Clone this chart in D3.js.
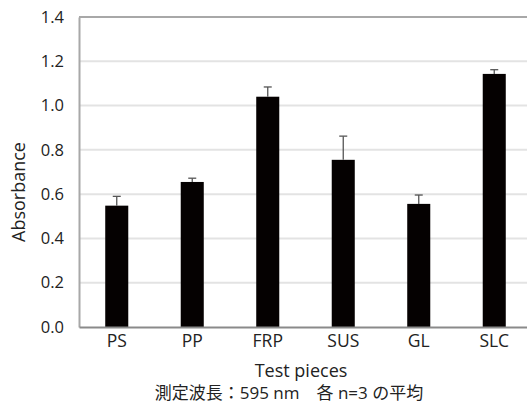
<!DOCTYPE html>
<html>
<head>
<meta charset="utf-8">
<script src="https://cdn.jsdelivr.net/npm/d3@7"></script>
<style>
  body { margin: 0; background: #fff; overflow: hidden; }
  text { font-family: "Open Sans", "Noto Sans CJK JP", sans-serif; fill: #222; }
</style>
</head>
<body>
<div id="chart"></div>
<script>
// data
const pieces = ["PS", "PP", "FRP", "SUS", "GL", "SLC"];
const absorbance = [0.548, 0.655, 1.04, 0.755, 0.556, 1.143];
const errTop = [0.59, 0.672, 1.084, 0.862, 0.596, 1.162];
const yTicks = [0, 0.2, 0.4, 0.6, 0.8, 1.0, 1.2, 1.4];

const width = 527, height = 405;
const margin = {top: 17, right: -5, bottom: 78, left: 79};
const innerW = width - margin.left - margin.right;
const innerH = height - margin.top - margin.bottom;

const svg = d3.select("#chart").append("svg")
  .attr("width", width)
  .attr("height", height);

const g = svg.append("g")
  .attr("transform", "translate(" + margin.left + "," + margin.top + ")");

const x = d3.scaleBand()
  .domain(pieces)
  .range([0, innerW])
  .paddingInner(0.695)
  .paddingOuter(0.3475);

const y = d3.scaleLinear()
  .domain([0, 1.4])
  .range([innerH, 0]);

// grid lines
g.selectAll(".grid")
  .data(yTicks.slice(1, -1))
  .enter()
  .append("line")
  .attr("x1", 0)
  .attr("x2", innerW)
  .attr("y1", d => y(d))
  .attr("y2", d => y(d))
  .attr("stroke", "#e3e3e3")
  .attr("stroke-width", 2);

// top border
g.append("line")
  .attr("x1", 0).attr("x2", innerW)
  .attr("y1", 0).attr("y2", 0)
  .attr("stroke", "#a8a8a8")
  .attr("stroke-width", 2);

// y axis
const yAxis = g.append("g")
  .call(d3.axisLeft(y).tickValues(yTicks).tickFormat(d3.format(".1f")).tickSize(0).tickPadding(15));
yAxis.select(".domain").attr("stroke", "#a8a8a8").attr("stroke-width", 2);
yAxis.selectAll("text").style("font-size", "16.5px");

// bars
g.selectAll(".bar")
  .data(pieces)
  .enter()
  .append("rect")
  .attr("x", d => x(d))
  .attr("y", (d, i) => y(absorbance[i]))
  .attr("width", x.bandwidth())
  .attr("height", (d, i) => innerH - y(absorbance[i]))
  .attr("fill", "#050101");

// error bars (upper only)
const eb = g.selectAll(".err")
  .data(pieces)
  .enter()
  .append("g")
  .attr("stroke", "#555")
  .attr("stroke-width", 1.3);
eb.append("line")
  .attr("x1", d => x(d) + x.bandwidth() / 2)
  .attr("x2", d => x(d) + x.bandwidth() / 2)
  .attr("y1", (d, i) => y(absorbance[i]))
  .attr("y2", (d, i) => y(errTop[i]));
eb.append("line")
  .attr("x1", d => x(d) + x.bandwidth() / 2 - 4)
  .attr("x2", d => x(d) + x.bandwidth() / 2 + 4)
  .attr("y1", (d, i) => y(errTop[i]))
  .attr("y2", (d, i) => y(errTop[i]));

// x axis
const xAxis = g.append("g")
  .attr("transform", "translate(0," + innerH + ")")
  .call(d3.axisBottom(x).tickSize(0).tickPadding(8));
xAxis.select(".domain").attr("stroke", "#8a8a8a").attr("stroke-width", 2);
xAxis.selectAll("text").style("font-size", "17.5px");

// axis titles
svg.append("text")
  .attr("transform", "translate(25,192) rotate(-90)")
  .attr("text-anchor", "middle")
  .style("font-size", "18px")
  .text("Absorbance");

svg.append("text")
  .attr("x", 301)
  .attr("y", 377)
  .attr("text-anchor", "middle")
  .style("font-size", "18px")
  .text("Test pieces");

svg.append("text")
  .attr("x", 289)
  .attr("y", 399)
  .attr("text-anchor", "middle")
  .style("font-size", "17px")
  .text("測定波長：595 nm　各 n=3 の平均");
</script>
</body>
</html>
